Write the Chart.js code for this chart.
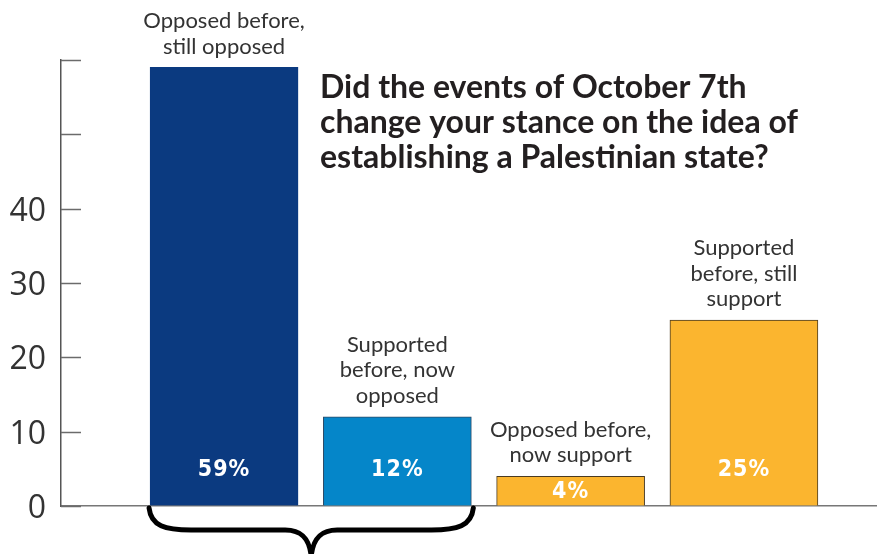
<!DOCTYPE html>
<html>
<head>
<meta charset="utf-8">
<style>
  html, body { margin: 0; padding: 0; background: #ffffff; }
  #wrap { position: relative; width: 877px; height: 554px; }
</style>
<script src="https://cdn.jsdelivr.net/npm/chart.js@4/dist/chart.umd.min.js"></script>
</head>
<body>
<div id="wrap"><canvas id="chart" width="877" height="554"></canvas></div>
<script>
// Survey answers, one bar per answer group
const categories = [
  'Opposed before, still opposed',
  'Supported before, now opposed',
  'Opposed before, now support',
  'Supported before, still support'
];
const shares = [59, 12, 4, 25];           // percent of respondents
const yTickLabels = ['0', '10', '20', '30', '40'];
const titleLines = [
  'Did the events of October 7th',
  'change your stance on the idea of',
  'establishing a Palestinian state?'
];

// Fixed label wrapping for the group captions
const captionLines = [
  ['Opposed before,', 'still opposed'],
  ['Supported', 'before, now', 'opposed'],
  ['Opposed before,', 'now support'],
  ['Supported', 'before, still', 'support']
];

const barFill = ['#0b3a80', '#0586c9', '#fbb52f', '#fbb52f'];
const barEdge = ['#0b3a80', '#2b4a66', '#4a3b22', '#4a3b22'];

const positions = shares.map((_, i) => i + 1);

const overlay = {
  id: 'overlay',
  afterDraw(chart) {
    const ctx = chart.ctx;
    const area = chart.chartArea;
    const yScale = chart.scales.y;
    const bars = chart.getDatasetMeta(0).data;

    ctx.save();
    // inner tick marks on the value axis
    ctx.strokeStyle = '#6b6b6b';
    ctx.lineWidth = 1.5;
    yScale.ticks.forEach(t => {
      const y = Math.round(yScale.getPixelForValue(t.value)) + 0.5;
      ctx.beginPath();
      ctx.moveTo(area.left, y);
      ctx.lineTo(area.left + 20, y);
      ctx.stroke();
    });

    // captions above bars and values inside
    bars.forEach((bar, i) => {
      const lines = captionLines[i];
      ctx.fillStyle = '#333333';
      ctx.font = '22px Lato, "Open Sans", sans-serif';
      ctx.textAlign = 'center';
      ctx.textBaseline = 'middle';
      const lh = 25.5;
      const lastY = bar.y - 21;
      lines.forEach((ln, k) => {
        ctx.fillText(ln, bar.x, lastY - (lines.length - 1 - k) * lh);
      });

      ctx.fillStyle = '#ffffff';
      ctx.font = 'bold 23px "DejaVu Sans Condensed", "Liberation Sans Narrow", Roboto, sans-serif';
      try { ctx.letterSpacing = '1px'; } catch (e) {}
      const mid = (bar.y + bar.base) / 2;
      const vy = Math.max(mid, bar.base - 36);
      ctx.fillText(shares[i] + '%', bar.x, vy + 1);
      try { ctx.letterSpacing = '0px'; } catch (e) {}
    });

    // question text
    ctx.fillStyle = '#231f20';
    ctx.font = 'bold 32px Lato, "Open Sans", sans-serif';
    ctx.textAlign = 'left';
    ctx.textBaseline = 'alphabetic';
    titleLines.forEach((ln, k) => {
      ctx.fillText(ln, 320, 98 + k * 35);
    });

    // brace grouping the first two bars
    const b0 = bars[0], b1 = bars[1];
    const x0 = b0.x - b0.width / 2 - 1;
    const x1 = b1.x + b1.width / 2 + 2;
    const cx = (x0 + x1) / 2;
    const top = area.bottom + 2;
    const flat = top + 22;
    ctx.strokeStyle = '#000000';
    ctx.lineWidth = 5;
    ctx.lineCap = 'round';
    ctx.beginPath();
    ctx.moveTo(x0, top);
    ctx.bezierCurveTo(x0 + 2, flat - 4, x0 + 16, flat, x0 + 42, flat);
    ctx.lineTo(cx - 26, flat);
    ctx.bezierCurveTo(cx - 10, flat, cx - 2, flat + 8, cx, flat + 26);
    ctx.bezierCurveTo(cx + 2, flat + 8, cx + 10, flat, cx + 26, flat);
    ctx.lineTo(x1 - 42, flat);
    ctx.bezierCurveTo(x1 - 16, flat, x1 - 2, flat - 4, x1, top);
    ctx.stroke();
    ctx.restore();
  }
};

new Chart(document.getElementById('chart'), {
  type: 'bar',
  data: {
    labels: categories,
    datasets: [{
      data: positions.map((p, i) => ({ x: p, y: shares[i] })),
      backgroundColor: barFill,
      borderColor: barEdge,
      borderWidth: 1,
      barThickness: 148
    }]
  },
  options: {
    responsive: false,
    devicePixelRatio: 1,
    animation: false,
    layout: { padding: { top: 60, right: 0, bottom: 48, left: 0 } },
    plugins: { legend: { display: false }, tooltip: { enabled: false }, title: { display: false } },
    scales: {
      x: {
        type: 'linear',
        offset: false,
        min: 0.059,
        max: 4.768,
        grid: { drawOnChartArea: false, drawTicks: false, offset: false },
        border: { display: true, color: '#777777', width: 1.5 },
        ticks: { display: false },
        afterFit(scale) { scale.height = 0; }
      },
      y: {
        min: 0,
        max: 60,
        grid: { drawOnChartArea: false, drawTicks: false },
        border: { display: true, color: '#555555', width: 1.5 },
        ticks: {
          stepSize: 10,
          padding: 15,
          labelOffset: 3,
          color: '#333333',
          font: { family: '"Open Sans", Lato, sans-serif', size: 32 },
          callback: v => yTickLabels.includes(String(v)) ? String(v) : ''
        },
        afterFit(scale) { scale.width = 61; }
      }
    }
  },
  plugins: [overlay]
});
</script>
</body>
</html>
